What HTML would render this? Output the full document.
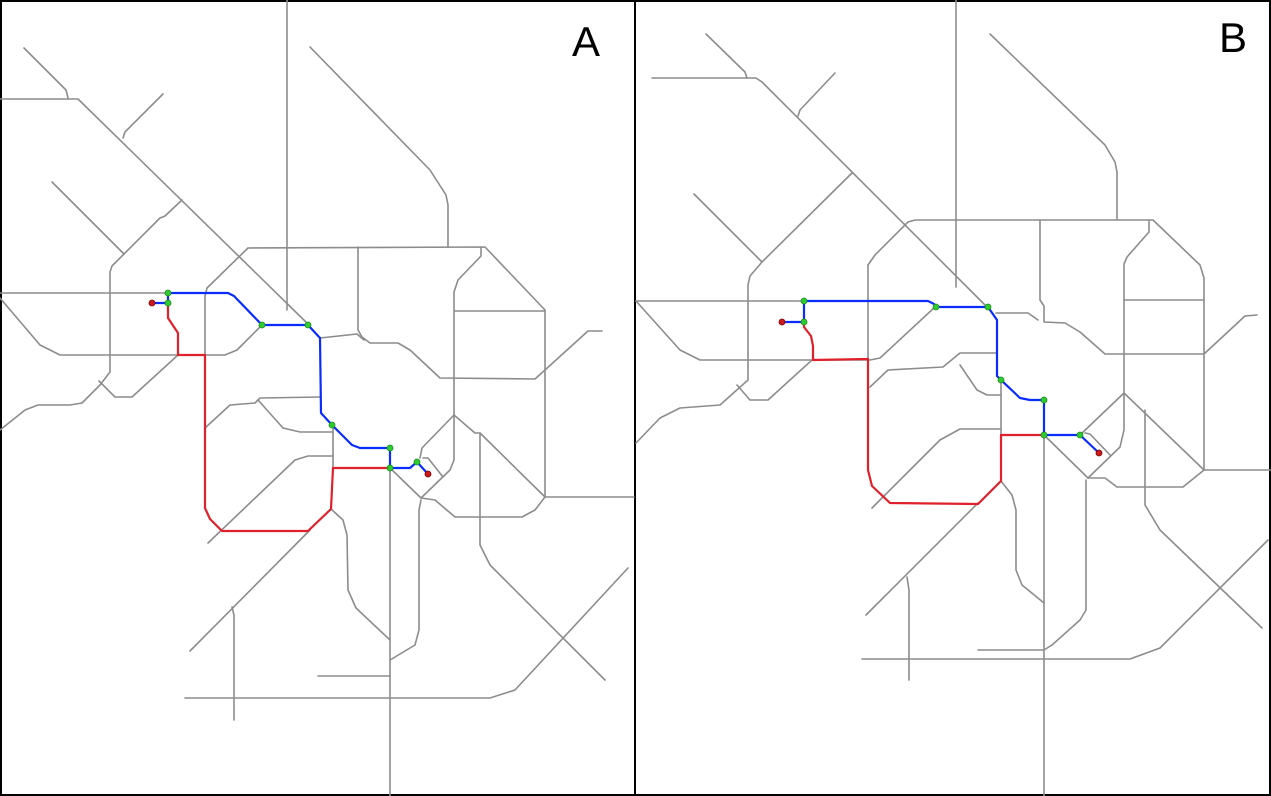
<!DOCTYPE html>
<html><head><meta charset="utf-8"><style>
html,body{margin:0;padding:0;background:#fff;}
svg{display:block;}
.g{fill:none;stroke:#8c8c8c;stroke-width:1.6;stroke-linejoin:round;stroke-linecap:round;}
.r{fill:none;stroke:#e0202a;stroke-width:2.2;stroke-linejoin:round;}
.b{fill:none;stroke:#0a2cff;stroke-width:2.2;stroke-linejoin:round;}
.gd{fill:#2ecc2e;stroke:#1a8a1a;stroke-width:0.8;}
.rd{fill:#cc1a1a;stroke:#7a0000;stroke-width:0.8;}
text{font-family:"Liberation Sans",sans-serif;font-size:42px;fill:#000;}
</style></head><body>
<svg width="1271" height="796" viewBox="0 0 1271 796">
<rect x="1" y="1" width="1269" height="794" fill="#fff" stroke="#000" stroke-width="2"/>
<line x1="635" y1="0" x2="635" y2="796" stroke="#000" stroke-width="2"/>

<g>
<path class="g" d="M24,48 L66,90 L68,98"/>
<path class="g" d="M0,99 L78,99 L309,325"/>
<path class="g" d="M123,138 L125,132 L163,94"/>
<path class="g" d="M52,182 L124,254"/>
<path class="g" d="M182,200 L165,216 L160,218 L112,266 L110,272 L110,372 L100,385 L82,403 L70,405 L38,405 L25,410 L0,430"/>
<path class="g" d="M99,381 L115,397 L132,397 L178,355"/>
<path class="g" d="M0,293 L168,293"/>
<path class="g" d="M0,298 L40,345 L60,355 L225,355 L237,350 L262,325"/>
<path class="g" d="M248,248 L485,247 L545,310 L545,497 L634,497"/>
<path class="g" d="M248,248 L207,288 L205,296 L205,355"/>
<path class="g" d="M287,0 L287,310"/>
<path class="g" d="M310,47 L430,170 L446,195 L448,205 L448,247"/>
<path class="g" d="M358,247 L358,330 L362,337 L370,343 L398,343 L410,350 L440,378 L535,379 L545,370 L588,331 L602,331"/>
<path class="g" d="M320,338 L357,334 L364,340"/>
<path class="g" d="M481,247 L481,256 L458,280 L454,292 L454,460 L450,470 L421,498"/>
<path class="g" d="M455,311 L545,311"/>
<path class="g" d="M454,415 L422,448 L420,458"/>
<path class="g" d="M454,415 L475,433 L480,433 L545,497"/>
<path class="g" d="M423,458 L428,458 L443,477"/>
<path class="g" d="M480,433 L480,545 L490,565 L605,680"/>
<path class="g" d="M390,468 L421,498 L435,500 L455,517 L522,517 L535,510 L545,497"/>
<path class="g" d="M421,500 L419,510 L419,630 L415,645 L390,660"/>
<path class="g" d="M390,447 L390,796"/>
<path class="g" d="M205,428 L230,405 L255,403 L260,398 L321,397"/>
<path class="g" d="M258,400 L283,428 L300,432 L333,432"/>
<path class="g" d="M333,425 L333,468"/>
<path class="g" d="M208,543 L295,460 L308,456 L333,456"/>
<path class="g" d="M331,509 L343,520 L347,535 L348,590 L356,608 L390,640"/>
<path class="g" d="M310,530 L190,651"/>
<path class="g" d="M232,607 L234,615 L234,720"/>
<path class="g" d="M185,698 L490,698 L515,690 L628,568"/>
<path class="g" d="M318,676 L390,676"/>
</g>
<g>
<path class="r" d="M168,303 L168,318 L178,333 L178,355 L205,355 L205,508 L210,519 L222,531 L308,531 L331,509 L333,468 L390,468"/>
</g>
<g>
<path class="b" d="M152,303 L168,303 L168,293 L228,293 L234,296 L262,325 L308,325 L320,338 L321,413 L332,425 L352,445 L360,448 L390,448 L390,468 L410,468 L417,462 L428,474"/>
</g>
<g>
<circle class="gd" cx="168" cy="293" r="3"/><circle class="gd" cx="168" cy="303" r="3"/>
<circle class="gd" cx="262" cy="325" r="3"/><circle class="gd" cx="308" cy="325" r="3"/>
<circle class="gd" cx="332" cy="425" r="3"/><circle class="gd" cx="390" cy="448" r="3"/>
<circle class="gd" cx="390" cy="468" r="3"/><circle class="gd" cx="417" cy="462" r="3"/>
<circle class="rd" cx="152" cy="303" r="3"/><circle class="rd" cx="428" cy="474" r="3"/>
</g>
<text x="572" y="56">A</text>

<g>
<path class="g" d="M706,34 L745,72 L747,78"/>
<path class="g" d="M652,78 L756,78 L762,82 L988,308"/>
<path class="g" d="M798,116 L800,110 L835,73"/>
<path class="g" d="M694,194 L762,262"/>
<path class="g" d="M852,173 L762,262 L750,276 L748,285 L748,380 L720,405 L680,408 L660,418 L636,443"/>
<path class="g" d="M737,385 L750,400 L768,400 L812,360"/>
<path class="g" d="M636,301 L804,301"/>
<path class="g" d="M636,301 L680,350 L700,360 L870,360 L880,358 L935,307"/>
<path class="g" d="M956,0 L956,287"/>
<path class="g" d="M990,34 L1105,145 L1115,162 L1117,172 L1117,220"/>
<path class="g" d="M868,265 L875,255 L908,222 L915,220 L1153,220 L1200,265 L1204,278 L1204,470 L1271,470"/>
<path class="g" d="M868,265 L868,360"/>
<path class="g" d="M1040,220 L1040,300 L1044,306 L1044,322 L1065,323 L1080,332 L1105,354 L1204,354 L1245,316 L1257,315"/>
<path class="g" d="M996,313 L1028,313 L1038,320"/>
<path class="g" d="M1149,220 L1149,232 L1127,257 L1124,264 L1124,430 L1120,447 L1088,478"/>
<path class="g" d="M1124,300 L1204,300"/>
<path class="g" d="M1124,393 L1080,435"/>
<path class="g" d="M1124,393 L1204,470"/>
<path class="g" d="M1085,433 L1090,434 L1110,455"/>
<path class="g" d="M1145,410 L1145,505 L1160,530 L1262,628"/>
<path class="g" d="M1044,435 L1088,478 L1105,478 L1117,487 L1183,487 L1204,470"/>
<path class="g" d="M1086,480 L1086,610 L1080,620 L1052,645 L1044,650 L978,650"/>
<path class="g" d="M1044,435 L1044,796"/>
<path class="g" d="M1001,380 L1001,435"/>
<path class="g" d="M870,387 L888,370 L943,367 L960,353 L997,353"/>
<path class="g" d="M960,365 L977,390 L987,395 L1001,395"/>
<path class="g" d="M872,508 L940,440 L960,429 L1001,429"/>
<path class="g" d="M1001,481 L1012,495 L1016,510 L1016,570 L1022,585 L1044,603"/>
<path class="g" d="M978,503 L866,615"/>
<path class="g" d="M907,577 L909,590 L909,680"/>
<path class="g" d="M862,659 L1130,659 L1160,648 L1268,540"/>
</g>
<g>
<path class="r" d="M804,322 L804,327 L811,336 L813,346 L813,360 L868,359 L868,470 L872,486 L890,503 L978,504 L1001,481 L1001,435 L1044,435"/>
</g>
<g>
<path class="b" d="M782,322 L804,322 L804,301 L928,301 L934,304 L936,307 L988,307 L997,320 L997,376 L1001,380 L1020,398 L1030,400 L1044,400 L1044,435 L1080,435 L1099,453"/>
</g>
<g>
<circle class="gd" cx="804" cy="301" r="3"/><circle class="gd" cx="804" cy="322" r="3"/>
<circle class="gd" cx="936" cy="307" r="3"/><circle class="gd" cx="988" cy="307" r="3"/>
<circle class="gd" cx="1001" cy="380" r="3"/><circle class="gd" cx="1044" cy="400" r="3"/>
<circle class="gd" cx="1044" cy="435" r="3"/><circle class="gd" cx="1080" cy="435" r="3"/>
<circle class="rd" cx="782" cy="322" r="3"/><circle class="rd" cx="1099" cy="453" r="3"/>
</g>
<text x="1219" y="52">B</text>
</svg>
</body></html>
